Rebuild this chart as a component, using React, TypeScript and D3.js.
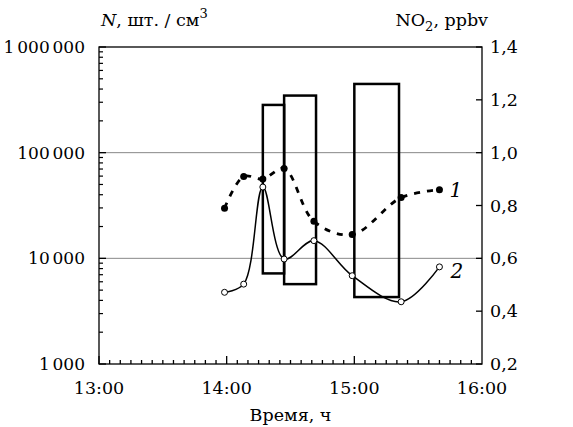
import React from 'react';
import * as d3 from 'd3';

// sampling times (curves 1 and 2 share them)
const sampleTimes = ['13:59', '14:08', '14:17', '14:27', '14:41', '14:59', '15:22', '15:40'];
// curve 2: particle number concentration N, cm^-3 (left, log axis)
const particleN = [4770, 5700, 47300, 9850, 14700, 6850, 3880, 8300];
// curve 1: NO2, ppbv (right axis)
const no2Ppbv = [0.79, 0.91, 0.9, 0.94, 0.74, 0.69, 0.83, 0.86];

// range bars (N min..max over an interval)
const barStart = ['14:17', '14:27', '15:00'];
const barEnd = ['14:27', '14:42', '15:21'];
const barLow = [7200, 5700, 4300];
const barHigh = [283000, 347000, 447000];

const leftTicks = [1000, 10000, 100000, 1000000];
const rightTicks = [0.2, 0.4, 0.6, 0.8, 1.0, 1.2, 1.4];
const hourTicks = ['13:00', '14:00', '15:00', '16:00'];

const W = 573;
const H = 427;
const margin = { top: 47, right: 91, bottom: 63, left: 99 };

const parseT = (s: string) => {
  const [h, m] = s.split(':').map(Number);
  return new Date(2000, 0, 1, h, m);
};

const ruLocale = d3.formatLocale({
  decimal: ',',
  thousands: '\u2006',
  grouping: [3],
  currency: ['', ''],
});
const fmtN = ruLocale.format(',d');
const fmtR = ruLocale.format('.1f');

const FONT = "'DejaVu Serif', serif";
const FS = 17.5;

const App = () => {
  const x = d3
    .scaleTime()
    .domain([parseT('13:00'), parseT('16:00')])
    .range([margin.left, W - margin.right]);
  const yL = d3.scaleLog().domain([1000, 1000000]).range([H - margin.bottom, margin.top]);
  const yR = d3.scaleLinear().domain([0.2, 1.4]).range([H - margin.bottom, margin.top]);

  const x0 = margin.left;
  const x1 = W - margin.right;
  const yB = H - margin.bottom;
  const yT = margin.top;

  const minorX = d3.timeMinute.every(5)!.range(parseT('13:00'), parseT('16:00'));
  const minorL = yL.ticks().filter((v) => !leftTicks.includes(v));

  const pts2 = sampleTimes.map((t, i) => [x(parseT(t)), yL(particleN[i])] as [number, number]);
  const pts1 = sampleTimes.map((t, i) => [x(parseT(t)), yR(no2Ppbv[i])] as [number, number]);

  const line = d3.line().curve(d3.curveCatmullRom.alpha(0.5));

  const last1 = pts1[pts1.length - 1];
  const last2 = pts2[pts2.length - 1];

  return (
    <svg
      width={W}
      height={H}
      style={{ position: 'absolute', left: 0, top: 0, background: '#fff', fontFamily: FONT }}
    >
      {/* grid */}
      {leftTicks.slice(1, -1).map((v) => (
        <line key={v} x1={x0} x2={x1} y1={yL(v)} y2={yL(v)} stroke="#888" strokeWidth={1} />
      ))}

      {/* range bars */}
      {barStart.map((s, i) => (
        <rect
          key={i}
          x={x(parseT(s))}
          y={yL(barHigh[i])}
          width={x(parseT(barEnd[i])) - x(parseT(s))}
          height={yL(barLow[i]) - yL(barHigh[i])}
          fill="none"
          stroke="#000"
          strokeWidth={2.5}
        />
      ))}

      {/* curve 1 : NO2 */}
      <path d={line(pts1) || ''} fill="none" stroke="#000" strokeWidth={2.8} strokeDasharray="6 7" />
      {pts1.map((p, i) => (
        <circle key={i} cx={p[0]} cy={p[1]} r={3.5} fill="#000" />
      ))}

      {/* curve 2 : N */}
      <path d={line(pts2) || ''} fill="none" stroke="#000" strokeWidth={1.5} />
      {pts2.map((p, i) => (
        <circle key={i} cx={p[0]} cy={p[1]} r={3} fill="#fff" stroke="#000" strokeWidth={1} />
      ))}

      <text x={last1[0] + 10} y={last1[1] + 7} fontSize={20} fontStyle="italic">1</text>
      <text x={last2[0] + 11} y={last2[1] + 11} fontSize={20} fontStyle="italic">2</text>

      {/* frame */}
      <rect x={x0} y={yT} width={x1 - x0} height={yB - yT} fill="none" stroke="#000" strokeWidth={1.3} />

      {/* bottom ticks */}
      {minorX.map((d, i) => (
        <line key={i} x1={x(d)} x2={x(d)} y1={yB} y2={yB - (d.getMinutes() === 0 ? 8 : 4)} stroke="#000" strokeWidth={1.3} />
      ))}
      {hourTicks.map((t) => (
        <text key={t} x={x(parseT(t))} y={yB + 30} fontSize={FS} textAnchor="middle">{t}</text>
      ))}

      {/* left ticks */}
      {minorL.map((v) => (
        <line key={v} x1={x0} x2={x0 + 4} y1={yL(v)} y2={yL(v)} stroke="#000" strokeWidth={1.2} />
      ))}
      {leftTicks.map((v) => (
        <g key={v}>
          <line x1={x0} x2={x0 + 7} y1={yL(v)} y2={yL(v)} stroke="#000" strokeWidth={1.3} />
          <text x={x0 - 14} y={yL(v) + 6} fontSize={17} textAnchor="end">{fmtN(v)}</text>
        </g>
      ))}

      {/* right ticks */}
      {rightTicks.map((v) => (
        <g key={v}>
          <line x1={x1} x2={x1 - 6} y1={yR(v)} y2={yR(v)} stroke="#000" strokeWidth={1.3} />
          <text x={x1 + 8} y={yR(v) + 6} fontSize={FS} textAnchor="start">{fmtR(v)}</text>
        </g>
      ))}

      {/* axis titles */}
      <text x={x0 + 2} y={26} fontSize={FS}>
        <tspan fontStyle="italic">N</tspan>
        <tspan>, шт. / см</tspan>
        <tspan dy={-8} fontSize={13}>3</tspan>
      </text>
      <text x={x1 + 6} y={26} fontSize={FS} textAnchor="end">
        <tspan>NO</tspan>
        <tspan dy={5} fontSize={13}>2</tspan>
        <tspan dy={-5}>, ppbv</tspan>
      </text>
      <text x={(x0 + x1) / 2} y={H - 6} fontSize={FS} textAnchor="middle">Время, ч</text>
    </svg>
  );
};

export default App;
